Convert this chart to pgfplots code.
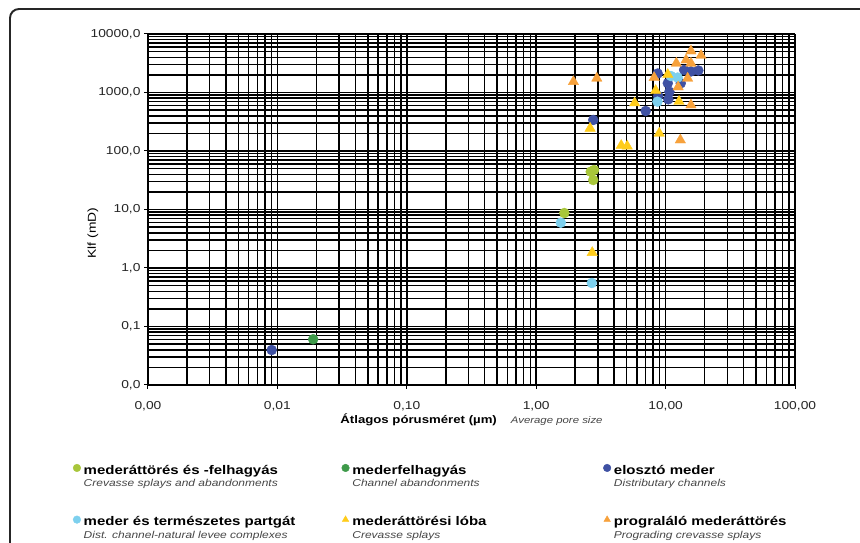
\documentclass[border=0pt]{standalone}
\usepackage{fontspec}
\setmainfont{Liberation Sans}[FakeStretch=1.2]
\usepackage{pgfplots}
\pgfplotsset{compat=1.18}
\definecolor{clime}{RGB}{168,198,58}
\definecolor{cgreen}{RGB}{62,154,74}
\definecolor{cblue}{RGB}{63,81,163}
\definecolor{clblue}{RGB}{125,208,238}
\definecolor{cyellow}{RGB}{255,204,26}
\definecolor{corange}{RGB}{247,161,59}
\definecolor{txtgray}{RGB}{70,70,70}
\newcommand{\lent}[3]{\makebox[#1][l]{\rlap{\raisebox{-12.5pt}[0pt][0pt]{\color{txtgray}\fontsize{10}{12}\selectfont\itshape #3}}\fontsize{12.5}{14}\selectfont\bfseries #2}}
\begin{document}
\begin{tikzpicture}
\useasboundingbox (0pt,0pt) rectangle (860pt,543pt);
\fill[white] (0pt,0pt) rectangle (860pt,543pt);
\draw[line width=1.9pt, rounded corners=9pt, black!85] (10pt,-30pt) -- (10pt,534pt) -- (890pt,534pt);
\begin{axis}[
  at={(148pt,158pt)}, anchor=south west,
  scale only axis, width=647pt, height=351pt,
  xmode=log, ymode=log,
  xmin=0.001, xmax=100, ymin=0.01, ymax=10000,
  axis x line*=bottom, axis y line*=left,
  xtick={0.001,0.01,0.1,1,10,100},
  xticklabels={{0,00},{0,01},{0,10},{1,00},{10,00},{100,00}},
  ytick={0.01,0.1,1,10,100,1000,10000},
  yticklabels={{0,0},{0,1},{1,0},{10,0},{100,0},{1000,0},{10000,0}},
  grid=both,
  major grid style={black, line width=1.5pt},
  minor grid style={black, line width=1.5pt},
  tick align=outside, major tick length=4pt, minor tick length=0pt,
  tick style={black, line width=1pt},
  axis line style={black, line width=1.6pt, -},
  ticklabel style={font=\fontsize{11.5}{13}\selectfont, text=black!85},
  xticklabel style={yshift=-9pt},
  xlabel={\fontsize{11}{13}\selectfont\bfseries Átlagos pórusméret (µm)\hspace{14pt}\mdseries\itshape\fontsize{9.5}{12}\selectfont\color{txtgray} Average pore size},
  xlabel style={yshift=4pt},
  ylabel={\fontsize{11.5}{13}\selectfont Klf (mD)},
  ylabel style={at={(axis description cs:-0.085,0.433)}, anchor=center},
  legend columns=3,
  legend cell align=left,
  legend style={at={(-0.116,-0.222)}, anchor=north west, draw=none, fill=none,
    inner sep=0pt, row sep=37pt, column sep=1pt},
  legend image code/.code={\draw plot coordinates {(3pt,2.5pt)};},
  legend image post style={mark size=3.8pt},
]
\addplot[only marks, mark=*, mark size=5pt, mark options={draw=clime, fill=clime}] coordinates {
(2.64,44.3) (2.80,47.3) (2.76,31.9) (1.65,8.7)};
\addlegendentry{\lent{255pt}{mederáttörés és -felhagyás}{Crevasse splays and abandonments}}
\addplot[only marks, mark=*, mark size=5pt, mark options={draw=cgreen, fill=cgreen}] coordinates {
(0.0189,0.0605)};
\addlegendentry{\lent{248pt}{mederfelhagyás}{Channel abandonments}}
\addplot[only marks, mark=*, mark size=5pt, mark options={draw=cblue, fill=cblue}] coordinates {
(0.00904,0.0396) (2.76,339) (7.02,483) (8.69,2110) (8.77,871) (10.5,765)
(10.4,1440) (13.1,1440) (15.7,2290) (17.9,2380) (10.7,1030) (13.9,2430)};
\addlegendentry{\lent{200pt}{elosztó meder}{Distributary channels}}
\addplot[only marks, mark=*, mark size=5pt, mark options={draw=clblue, fill=clblue}] coordinates {
(1.55,5.95) (2.69,0.554) (12.4,1800) (8.65,697) (11.0,1910)};
\addlegendentry{\lent{255pt}{meder és természetes partgát}{Dist. channel-natural levee complexes}}
\addplot[only marks, mark=triangle*, mark size=6pt, mark options={draw=cyellow, fill=cyellow}] coordinates {
(2.61,244) (4.54,124) (5.05,121) (5.77,662) (8.93,201) (12.7,702)
(10.4,2030) (8.38,1080) (2.71,1.83)};
\addlegendentry{\lent{248pt}{mederáttörési lóba}{Crevasse splays}}
\addplot[only marks, mark=triangle*, mark size=6pt, mark options={draw=corange, fill=corange}] coordinates {
(1.94,1530) (2.94,1750) (15.7,5120) (18.8,4290) (12.1,3160) (14.4,3590)
(15.7,3160) (8.16,1790) (14.8,1750) (12.5,1240) (15.7,611) (13.0,154)};
\addlegendentry{\lent{200pt}{prograláló mederáttörés}{Prograding crevasse splays}}
\end{axis}
\end{tikzpicture}
\end{document}
